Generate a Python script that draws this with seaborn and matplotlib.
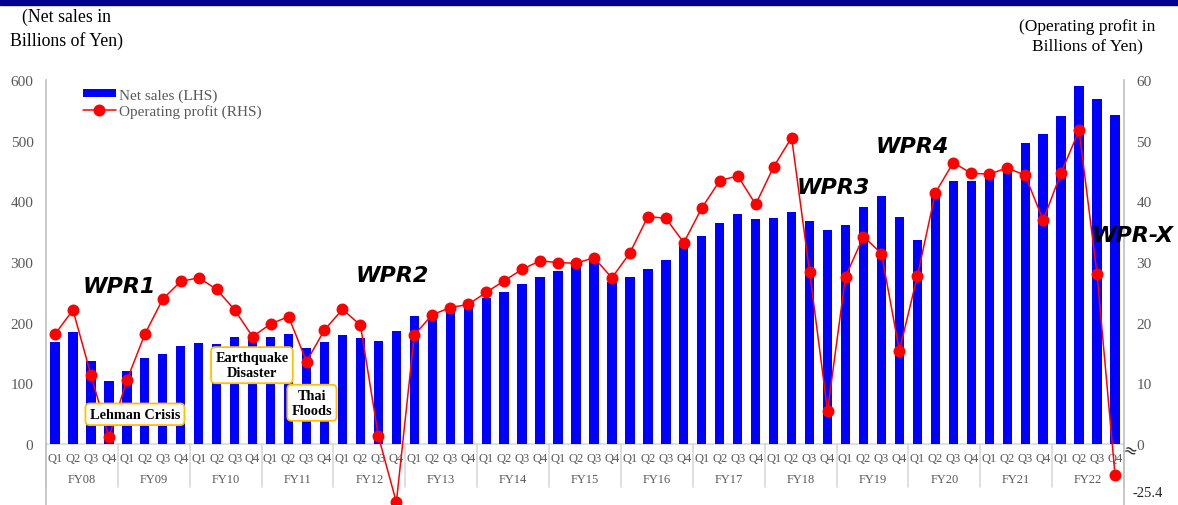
import numpy as np
import pandas as pd
import matplotlib
matplotlib.use("Agg")
import matplotlib.pyplot as plt
from matplotlib.patches import Patch, Rectangle
from matplotlib.lines import Line2D
import seaborn as sns

# ---------------- data ----------------
years = ["FY08", "FY09", "FY10", "FY11", "FY12", "FY13", "FY14", "FY15",
         "FY16", "FY17", "FY18", "FY19", "FY20", "FY21", "FY22"]
quarters = ["Q1", "Q2", "Q3", "Q4"]

net_sales = [168.6, 184, 136.8, 103.8,
             120.3, 141.7, 148.9, 162,
             166, 164.3, 176.4, 174,
             176.9, 180.8, 157.7, 168,
             179, 174.7, 169.8, 186.3,
             211, 212, 217, 225,
             240.6, 250, 264, 274.7,
             285, 294, 303, 267.6,
             276, 288, 304, 328,
             342.8, 365, 379, 370.9,
             372.5, 383, 367, 352.7,
             361, 390.6, 408.8, 375,
             337, 413, 433.5, 433.5,
             440, 451, 496.7, 511,
             540, 590, 569, 542.8]

op_profit = [18.1, 22.1, 11.4, 1.1,
             10.5, 18.1, 23.9, 26.8,
             27.4, 25.5, 22.1, 17.7,
             19.8, 21.0, 13.6, 18.8,
             22.2, 19.6, 1.3, -48.0,
             18.0, 21.3, 22.5, 23.0,
             25.0, 26.9, 28.8, 30.2,
             29.9, 29.8, 30.7, 27.4,
             31.5, 37.5, 37.2, 33.2,
             38.9, 43.4, 44.2, 39.5,
             45.7, 50.5, 28.4, 5.5,
             27.6, 34.2, 31.4, 15.4,
             27.7, 41.4, 46.4, 44.6,
             44.5, 45.5, 44.3, 36.9,
             44.7, 51.7, 28.0, -25.4]

left_ticks = [0, 100, 200, 300, 400, 500, 600]
right_ticks = [0, 10, 20, 30, 40, 50, 60]

phase_labels = ["WPR1", "WPR2", "WPR3", "WPR4", "WPR-X"]
phase_pos = [(3.6, 260), (18.8, 279), (43.3, 424), (47.7, 491), (60.0, 345)]
event_labels = ["Lehman Crisis", "Earthquake\nDisaster", "Thai\nFloods"]
event_pos = [(4.45, 49), (10.96, 130), (14.3, 68)]

# ---------------- style ----------------
sns.set_style("white")
plt.rcParams["font.family"] = ["Liberation Serif", "DejaVu Serif"]

GRAY = "#595959"
AXIS = "#BFBFBF"
LIGHT = "#D9D9D9"

n = len(net_sales)
df = pd.DataFrame({"idx": np.arange(n), "sales": net_sales, "op": op_profit})

fig = plt.figure(figsize=(11.78, 5.06), dpi=100)
L, R, T, B = 46, 1124, 81, 506
ax = fig.add_axes([L / 1178, 1 - B / 506, (R - L) / 1178, (B - T) / 506])

sns.barplot(data=df, x="idx", y="sales", color="#0000FF", saturation=1,
            width=0.52, linewidth=0, ax=ax, zorder=2)
ax.set_xlim(-0.5, n - 0.5)
ax.set_ylim(-100.5, 600)
ax.set_yticks(left_ticks)
ax.set_yticklabels([str(t) for t in left_ticks])
ax.set_xticks([])
ax.set_xlabel("")
ax.set_ylabel("")
ax.tick_params(axis="y", length=0, pad=9, labelsize=11, labelcolor=GRAY)
for s in ["top", "bottom", "right"]:
    ax.spines[s].set_visible(False)
ax.spines["left"].set_color(AXIS)
ax.spines["left"].set_linewidth(1.2)
ax.axhline(0, color=LIGHT, lw=1.2, zorder=1)

# category labels
for i in range(n):
    ax.text(i, -23, quarters[i % 4], ha="center", va="center",
            fontsize=9, color=GRAY)
for k, y in enumerate(years):
    ax.text(4 * k + 1.5, -57.7, y, ha="center", va="center",
            fontsize=9, color=GRAY)
for k in range(len(years) + 1):
    ax.plot([4 * k - 0.5, 4 * k - 0.5], [0, -71], color=LIGHT, lw=1.2,
            clip_on=False, zorder=1)

# right axis with compressed negative range
ax2 = ax.twinx()
k_neg = 0.2


def fwd(v):
    v = np.asarray(v, dtype=float)
    return np.where(v < 0, v * k_neg, v)


def inv(v):
    v = np.asarray(v, dtype=float)
    return np.where(v < 0, v / k_neg, v)


sns.lineplot(data=df, x="idx", y="op", ax=ax2, color="#FF0000", marker="o",
             markersize=8.6, markeredgewidth=0, linewidth=1.1, sort=False,
             zorder=3)
ax2.set_yscale("function", functions=(fwd, inv))
ax2.set_ylim(-10.05 / k_neg, 60)
ax2.set_yticks(right_ticks)
ax2.set_yticklabels([str(t) for t in right_ticks])
ax2.set_xlim(-0.5, n - 0.5)
ax2.set_xlabel("")
ax2.set_ylabel("")
ax2.tick_params(axis="y", length=0, pad=9, labelsize=11, labelcolor=GRAY)
for s in ["top", "bottom", "left"]:
    ax2.spines[s].set_visible(False)
ax2.spines["right"].set_color(AXIS)
ax2.spines["right"].set_linewidth(1.2)

fig.text(1148 / 1178, 1 - 494 / 506, "-25.4", ha="center", va="center",
         fontsize=10.5, color="#262626")
fig.text(1130 / 1178, 1 - 451 / 506, "≈", ha="center", va="center",
         fontsize=12, color="#262626", rotation=-20, family="DejaVu Sans")

# legend
handles = [Patch(facecolor="#0000FF", edgecolor="none"),
           Line2D([0], [0], color="#FF0000", lw=1.1, marker="o",
                  markersize=8.6, markeredgewidth=0)]
leg = ax2.legend(handles, ["Net sales (LHS)", "Operating profit (RHS)"],
                 loc="upper left", bbox_to_anchor=(0.034, 0.98),
                 frameon=False, fontsize=11, handlelength=2.2,
                 handleheight=0.45, handletextpad=0.2, labelspacing=0.15,
                 borderpad=0, borderaxespad=0)
for t in leg.get_texts():
    t.set_color(GRAY)

# phase labels
for lab, (x, y) in zip(phase_labels, phase_pos):
    ax2.text(x, y, lab, transform=ax.transData, ha="center", va="center",
             fontsize=16, fontweight="bold", fontstyle="italic",
             family=["DejaVu Sans"], color="black", zorder=6,
             clip_on=False)

# event boxes
for lab, (x, y) in zip(event_labels, event_pos):
    ax2.text(x, y, lab, transform=ax.transData, ha="center", va="center",
             fontsize=10.3, fontweight="bold", color="black", zorder=7,
             linespacing=1.15,
             bbox=dict(boxstyle="round,pad=0.3", fc="white", ec="#FFC000",
                       lw=1.3))

# header texts
fig.text(67 / 1178, 1 - 29.5 / 506, "(Net sales in\nBillions of Yen)",
         ha="center", va="center", fontsize=12.8, color="black",
         linespacing=1.4)
fig.text(1087 / 1178, 1 - 37 / 506, "(Operating profit in\nBillions of Yen)",
         ha="center", va="center", fontsize=12.5, color="black",
         linespacing=1.3)
fig.patches.append(Rectangle((0, 1 - 5.5 / 506), 1, 5.5 / 506,
                             transform=fig.transFigure, color="#00008E",
                             zorder=0))

fig.savefig("out.png", dpi=100)
